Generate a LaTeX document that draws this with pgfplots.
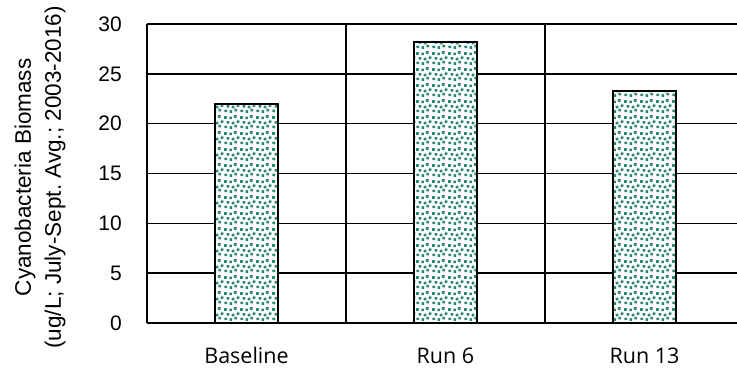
\documentclass[border=0pt]{standalone}
\usepackage{fontspec}
\setmainfont{Liberation Sans}
\newfontfamily\catfont{Open Sans}
\usepackage{pgfplots}
\pgfplotsset{compat=1.18}
\usetikzlibrary{patterns}
\frenchspacing

% speckled fill: small squares scattered over a 16pt tile
\pgfdeclarepatternformonly{speckle}{\pgfpointorigin}{\pgfpoint{16pt}{16pt}}{\pgfpoint{16pt}{16pt}}{%
  \foreach \x/\y in {0.4/0.8, 5.9/0.2, 11.0/1.6,
                     2.9/5.6, 8.1/5.0, 13.4/6.4,
                     0.2/10.8, 5.6/10.4, 10.6/11.9}{%
    \pgfpathrectangle{\pgfpoint{\x pt}{\y pt}}{\pgfpoint{2.8pt}{2.8pt}}%
  }%
  \pgfusepath{fill}%
}
\definecolor{speckgreen}{RGB}{44,136,116}

\begin{document}
\begin{tikzpicture}
% page frame: y-label margin on the left, category labels below
\path[use as bounding box] (-147pt,-46pt) rectangle (590pt,323pt);
\begin{axis}[
  at={(0pt,0pt)}, anchor=south west,
  scale only axis,
  width=590pt, height=299pt,
  xmin=-0.5, xmax=2.465,
  ymin=0, ymax=30,
  axis lines=left,
  axis line style={-, line width=1.6pt, black},
  xtick={0,1,2},
  xticklabels={Baseline, Run 6, Run 13},
  extra x ticks={0.5,1.5},
  extra x tick labels={},
  extra x tick style={grid=major, major grid style={line width=1.6pt, black}},
  ytick={0,5,...,30},
  ymajorgrids,
  major grid style={line width=1.6pt, black},
  major tick length=0pt,
  /pgf/number format/assume math mode=true,
  yticklabel style={font=\fontsize{21}{24}\selectfont, anchor=east, inner sep=0pt, xshift=-25pt},
  xticklabel style={font=\catfont\fontsize{21.5}{24}\selectfont, anchor=base, inner sep=0pt, yshift=-41pt},
  every axis y label/.style={at={([xshift=-107pt]axis description cs:0,0.487)}, anchor=center, rotate=90,
    align=center, font=\fontsize{22.5}{30}\selectfont},
  ylabel={Cyanobacteria Biomass\\(ug/L; July-Sept. Avg.; 2003-2016)},
  clip=false,
]
\addplot[ybar, bar width=63pt, draw=black, line width=1.6pt, fill=white,
  postaction={pattern=speckle, pattern color=speckgreen}]
  coordinates {(0,22.0) (1,28.2) (2,23.3)};
\end{axis}
\end{tikzpicture}
\end{document}
